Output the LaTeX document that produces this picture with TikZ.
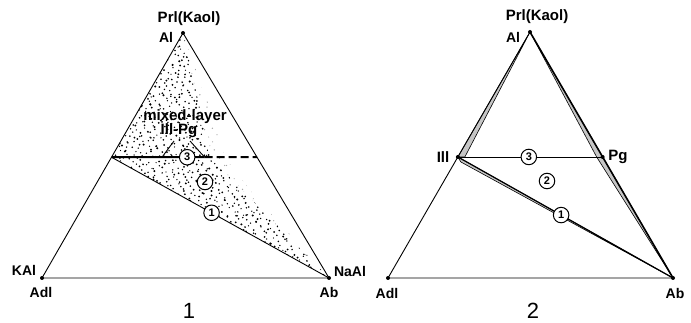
\documentclass[tikz,border=0pt]{standalone}
\usepackage{fontspec}
\setmainfont{Liberation Sans}
\usetikzlibrary{positioning,calc}

\tikzset{
  lab/.style={font=\bfseries\fontsize{14}{15}\selectfont, inner sep=0pt},
  biglab/.style={font=\bfseries\fontsize{15}{16}\selectfont, inner sep=0pt},
  numc/.style={circle, draw, fill=white, line width=1pt, minimum size=15.5pt, inner sep=0pt, font=\bfseries\fontsize{11}{11}\selectfont},
  edge/.style={line width=0.9pt},
  vdot/.style={circle, fill, inner sep=0pt, minimum size=4pt},
  band/.style={fill=gray!45, draw, line width=0.6pt},
  capt/.style={font=\fontsize{22}{22}\selectfont, inner sep=0pt, anchor=base}
}

\begin{document}
\begin{tikzpicture}[x=1pt,y=-1pt]
    \useasboundingbox (0,0) rectangle (691,323);

    % Dreieck 1
    \coordinate (Al1) at (183,33);
    \coordinate (Adl1) at (42,278);
    \coordinate (Ab1) at (329,278);
    \coordinate (Ill1) at ($(Al1)!0.507!(Adl1)$);
    \coordinate (Pg1) at ($(Al1)!0.507!(Ab1)$);
    \coordinate (mixA) at ($(Ill1)!0.347!(Pg1)$);
    \coordinate (mixB) at ($(Ill1)!0.64!(Pg1)$);
    \coordinate (brL) at (174,141);
    \coordinate (brR) at (190,141);

    % Punktierung
    \begin{scope}
        \clip (Al1) -- (Ill1) -- (Ab1) -- (210,157) -- (199,105) -- cycle;
        \pgfmathsetseed{7}
        \foreach \k in {1,...,2300}{
            \pgfmathsetmacro\px{110+220*mod(0.5+\k*0.7548776662,1)+2*rand}
            \pgfmathsetmacro\py{33+245*mod(0.5+\k*0.5698402910,1)+2*rand}
            \fill (\px,\py) circle (0.65+0.45*rnd);
        }
    \end{scope}
    \begin{scope}
        \clip (Al1) -- (199,105) -- (210,157) -- (Ab1) -- (250,190) -- (225,157) -- (207,100) -- cycle;
        \foreach \k in {1,...,900}{
            \pgfmathsetmacro\px{110+220*mod(0.3+\k*0.7548776662,1)+3*rand}
            \pgfmathsetmacro\py{33+245*mod(0.2+\k*0.5698402910,1)+3*rand}
            \fill[gray!70] (\px,\py) circle (0.5+0.3*rnd);
        }
    \end{scope}

    \draw[edge] (Al1) -- (Adl1) -- (Ab1) -- cycle;
    \draw[edge] (Ill1) -- (Ab1);
    \draw[line width=2pt] (Ill1) -- (mixB);
    \draw[line width=2pt, dash pattern=on 8pt off 4pt] (mixB) -- (Pg1);
    \draw[edge] (mixA) -- (brL);
    \draw[edge] (brR) -- (mixB);

    \node[vdot] (v1a) at (Al1) {};
    \node[vdot] (v1b) at (Adl1) {};
    \node[vdot] (v1c) at (Ab1) {};

    \node[numc] (c3a) at ($(Ill1)!0.52!(Pg1)$) {3};
    \node[numc] (c2a) at (205,182) {2};
    \node[numc] (c1a) at ($(Ill1)!0.46!(Ab1)$) {1};

    \node[biglab] (prl1) at (189,19) {Prl(Kaol)};
    \node[lab] (al1) at (166,37) {Al};
    \node[lab] (kal) at (24,270) {KAl};
    \node[lab] (adl1) at (41,292) {Adl};
    \node[lab] (naal) at (350,271) {NaAl};
    \node[lab] (ab1) at (329,292) {Ab};
    \node[biglab] (mix) at (185,117) {mixed-layer};
    \node[biglab] (illpg) at (179,131) {Ill-Pg};
    \node[capt] (cap1) at (189,318) {1};

    % Dreieck 2
    \coordinate (Al2) at (530,32);
    \coordinate (Adl2) at (388,278);
    \coordinate (Ab2) at (673,278);
    \coordinate (Ill2) at ($(Al2)!0.508!(Adl2)$);
    \coordinate (Pg2) at ($(Al2)!0.508!(Ab2)$);

    \filldraw[band] (Al2) -- (Ill2) -- ($(Ill2)+(7,0)$) -- cycle;
    \filldraw[band] (Al2) -- (Ab2) -- ($(Pg2)+(-6,0)$) -- cycle;
    \filldraw[band] (Ill2) -- (Ab2) -- ($(Ill2)+(3,5)$) -- cycle;

    \draw[edge] (Al2) -- (Adl2) -- (Ab2);
    \draw[line width=1.6pt] (Al2) -- (Ab2);
    \draw[edge] (Ill2) -- (Pg2);
    \draw[line width=1.2pt] (Ill2) -- (Ab2);

    \node[vdot] (v2a) at (Al2) {};
    \node[vdot] (v2b) at (Adl2) {};
    \node[vdot] (v2c) at (Ab2) {};
    \node[vdot] (v2d) at (Ill2) {};
    \node[vdot] (v2e) at (Pg2) {};

    \node[numc] (c3b) at ($(Ill2)!0.49!(Pg2)$) {3};
    \node[numc] (c2b) at (547,181) {2};
    \node[numc] (c1b) at ($(Ill2)!0.48!(Ab2)$) {1};

    \node[biglab] (prl2) at (537,17) {Prl(Kaol)};
    \node[lab] (al2) at (513,37) {Al};
    \node[lab] (adl2) at (387,293) {Adl};
    \node[lab] (ab2) at (675,293) {Ab};
    \node[biglab] (ill) at (443,157) {Ill};
    \node[biglab] (pg) at (618,157) {Pg};
    \node[capt] (cap2) at (533,318) {2};
\end{tikzpicture}
\end{document}
